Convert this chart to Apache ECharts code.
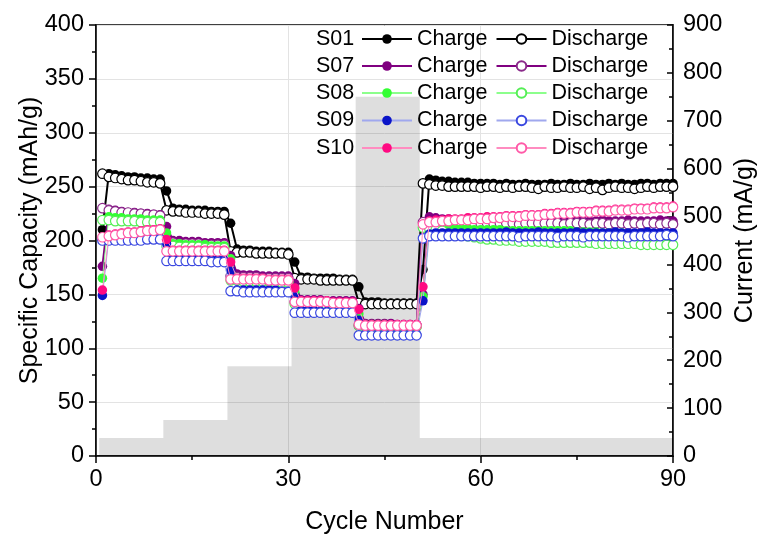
<!DOCTYPE html>
<html><head><meta charset="utf-8">
<script src="https://cdn.jsdelivr.net/npm/echarts@6/dist/echarts.min.js"></script>
<style>html,body{margin:0;padding:0;background:#fff}#c{width:758px;height:536px}</style>
</head><body><div id="c"></div><script>
// ---- data ----
const samples = ['S01', 'S07', 'S08', 'S09', 'S10'];
const xTicks = [0, 30, 60, 90];
const rateCurrents = [37.5, 75, 187.5, 375, 750, 37.5];   // mA/g
const rateCycles   = [10, 10, 10, 10, 10, 40];

const S01_charge = [210,262,261,260,259,259,258,258,257,257,
 246,230,229,229,228,228,228,227,227,227,
 216,192,191,191,190,190,190,189,189,189,
 180,166,166,165,165,165,165,164,164,164,
 157,143,143,143,142,142,142,142,142,142,
 173,257,256,255,255,254,254,254,253,253,
 253,253,252,253,252,252,253,252,252,252,
 253,252,252,253,252,252,253,252,252,253,
 252,253,252,252,253,253,252,253,253,253];
const S01_discharge = [262,259,258,257,256,256,255,254,254,253,
 228,227,227,226,226,226,225,225,225,224,
 190,189,189,189,188,188,188,188,188,187,
 165,164,164,164,163,163,163,163,163,163,
 142,141,141,141,141,141,141,141,141,141,
 253,252,251,251,250,250,250,250,250,249,
 250,250,249,250,249,250,250,249,248,250,
 249,249,250,249,249,250,248,249,247,249,
 250,249,249,248,249,250,249,250,250,250];
const S07_charge = [176,229,228,227,226,226,225,225,224,224,
 213,200,200,199,199,199,198,198,198,198,
 186,169,168,168,168,167,167,167,167,167,
 160,145,145,145,145,144,144,144,144,144,
 137,123,123,123,123,123,122,122,122,122,
 150,222,221,220,220,219,219,219,219,219,
 219,219,218,219,218,218,219,218,218,218,
 219,218,218,218,219,218,218,218,219,218,
 218,218,219,218,218,218,218,219,218,218];
const S07_discharge = [230,228,227,226,226,225,225,224,224,223,
 198,198,197,197,197,197,196,196,196,196,
 167,166,166,166,166,165,165,165,165,165,
 143,143,143,143,143,143,142,142,142,142,
 121,121,121,121,121,121,121,121,121,121,
 217,217,217,217,216,217,216,216,216,216,
 216,216,216,216,216,215,216,216,216,216,
 216,216,215,216,216,216,215,216,216,215,
 216,216,215,216,215,216,216,215,216,215];
const S08_charge = [165,222,221,221,220,220,220,219,219,219,
 207,197,197,196,196,196,196,195,195,195,
 183,164,164,164,163,163,163,163,163,163,
 152,142,142,142,142,141,141,141,141,141,
 132,122,122,122,122,121,121,121,121,121,
 148,214,213,212,212,211,211,211,210,210,
 210,210,210,209,209,209,209,209,209,209,
 209,209,209,209,208,208,208,208,207,207,
 207,207,206,206,206,206,205,205,205,205];
const S08_discharge = [219,219,218,218,218,218,217,217,217,217,
 195,195,194,194,194,194,193,193,193,193,
 163,163,162,162,162,162,162,161,161,161,
 141,140,140,140,140,140,140,140,139,139,
 121,120,120,120,120,120,120,120,120,120,
 212,211,210,209,207,206,205,204,203,202,
 201,201,200,200,200,199,199,199,199,199,
 198,198,198,198,198,198,198,197,197,197,
 197,197,197,197,196,196,196,196,196,196];
const S09_charge = [149,202,202,202,202,202,202,202,202,202,
 197,183,183,183,183,183,182,182,182,182,
 172,154,154,154,154,154,154,154,153,153,
 148,135,135,135,134,134,134,134,134,134,
 126,113,113,113,113,113,113,113,113,113,
 144,206,207,207,207,207,207,207,207,207,
 207,207,207,208,207,207,207,207,208,207,
 207,207,207,207,208,207,207,207,207,207,
 208,207,207,207,207,208,207,207,207,207];
const S09_discharge = [200,200,200,200,200,200,200,201,201,201,
 181,181,181,181,181,181,181,180,180,180,
 153,153,152,152,152,152,152,152,152,152,
 133,133,133,133,133,133,133,133,133,133,
 112,112,112,112,112,112,112,112,112,112,
 202,204,204,204,204,204,204,204,204,204,
 204,204,204,204,204,203,204,204,204,204,
 204,203,204,204,204,203,204,204,204,204,
 204,204,203,204,204,204,204,204,205,204];
const S10_charge = [154,205,206,207,208,208,209,210,210,211,
 201,191,191,191,191,191,191,191,191,191,
 180,165,165,165,165,165,164,164,164,164,
 156,144,144,144,144,144,143,143,143,143,
 136,122,122,122,122,122,122,122,122,122,
 157,218,219,219,220,220,220,221,221,221,
 222,222,222,223,223,223,224,224,224,225,
 225,226,226,226,227,227,227,228,228,228,
 229,229,229,230,230,230,231,231,231,232];
const S10_discharge = [203,204,205,206,207,207,208,209,209,210,
 190,190,190,190,190,190,190,190,190,190,
 164,164,164,164,164,164,163,163,163,163,
 143,143,143,143,143,143,142,142,142,142,
 122,121,121,121,121,121,121,121,121,121,
 215,217,217,218,218,219,219,219,220,220,
 220,221,221,222,222,222,223,223,223,224,
 224,225,225,225,226,226,226,227,227,227,
 228,228,228,229,229,229,230,230,230,231];

const chargeData = [S01_charge, S07_charge, S08_charge, S09_charge, S10_charge];
const dischargeData = [S01_discharge, S07_discharge, S08_discharge, S09_discharge, S10_discharge];

// ---- styles ----
const FONT = 'Liberation Sans, Arial, sans-serif';
const fillColor = ['#000000', '#800080', '#33ff33', '#0a14c8', '#ff0a82'];
const lineColor = ['#000000', '#800080', '#8cff8c', '#a0a8ee', '#ff8cc0'];
const ringColor = ['#000000', '#8a2a8a', '#55ee55', '#3a48e0', '#ff5aa8'];
const lineW = [2, 2, 1, 1, 1];
const rowY = [39, 66, 93, 120.5, 148];

// current steps
const currentPerCycle = [];
rateCurrents.forEach((c, k) => { for (let j = 0; j < rateCycles[k]; j++) currentPerCycle.push(c); });
const currentSteps = currentPerCycle.map((c, i) => [i + 0.5, c]);
currentSteps.push([currentPerCycle.length + 0.5, currentPerCycle[currentPerCycle.length - 1]]);

const series = [{
  type: 'line', yAxisIndex: 1, data: currentSteps, step: 'end', symbol: 'none',
  lineStyle: { width: 0 }, areaStyle: { color: 'rgba(0,0,0,0.13)', opacity: 1 },
  z: 1, silent: true, animation: false
}];
samples.forEach((s, k) => {
  series.push({
    name: s + ' Charge', type: 'line', yAxisIndex: 0,
    data: chargeData[k].map((v, i) => [i + 1, v]),
    symbol: 'circle', symbolSize: 9.5,
    itemStyle: { color: fillColor[k] },
    lineStyle: { color: lineColor[k], width: lineW[k] },
    z: 2 + k * 2, animation: false
  });
  series.push({
    name: s + ' Discharge', type: 'line', yAxisIndex: 0,
    data: dischargeData[k].map((v, i) => [i + 1, v]),
    symbol: 'circle', symbolSize: 9.5,
    itemStyle: { color: '#ffffff', borderColor: ringColor[k], borderWidth: 1.2 },
    lineStyle: { color: lineColor[k], width: lineW[k] },
    z: 3 + k * 2, animation: false
  });
});

const legends = samples.map((s, k) => ({
  data: [s + ' Charge', s + ' Discharge'],
  left: 361, top: rowY[k] - 11, orient: 'horizontal',
  itemWidth: 50, itemHeight: 12, itemGap: 8, padding: 0,
  selectedMode: false,
  formatter: n => n.split(' ')[1],
  textStyle: { fontSize: 21.5, fontFamily: FONT, color: '#000', lineHeight: 22 }
}));
const graphics = samples.map((s, k) => ({
  type: 'text', x: 316, y: rowY[k],
  style: { text: s, fontSize: 21.5, fontFamily: FONT, fill: '#000', verticalAlign: 'middle', align: 'left' }
}));

const axisLineStyle = { color: '#000', width: 1.5 };
const option = {
  backgroundColor: '#fff',
  animation: false,
  grid: { left: 96, right: 85, top: 25, bottom: 80, show: true, borderColor: '#000', borderWidth: 1.5, outerBoundsMode: 'none' },
  legend: legends,
  graphic: graphics,
  xAxis: {
    type: 'value', min: xTicks[0], max: xTicks[xTicks.length - 1], interval: 30,
    name: 'Cycle Number', nameLocation: 'middle', nameGap: 54,
    nameTextStyle: { fontSize: 25, fontFamily: FONT, color: '#000' },
    axisLine: { show: true, onZero: false, lineStyle: axisLineStyle },
    axisTick: { show: true, length: 7, lineStyle: axisLineStyle },
    minorTick: { show: true, splitNumber: 2, length: 4, lineStyle: axisLineStyle },
    axisLabel: { fontSize: 23.5, fontFamily: FONT, color: '#000', margin: 12 },
    splitLine: { show: true, lineStyle: { color: '#e3e3e3', width: 1 } }
  },
  yAxis: [{
    type: 'value', min: 0, max: 400, interval: 50, position: 'left',
    name: 'Specific Capacity (mAh/g)', nameLocation: 'middle', nameRotate: 90, nameGap: 53,
    nameMoveOverlap: false,
    nameTextStyle: { fontSize: 25, fontFamily: FONT, color: '#000' },
    axisLine: { show: true, onZero: false, lineStyle: axisLineStyle },
    axisTick: { show: true, length: 7, lineStyle: axisLineStyle },
    minorTick: { show: true, splitNumber: 2, length: 4, lineStyle: axisLineStyle },
    axisLabel: { fontSize: 23.5, fontFamily: FONT, color: '#000', margin: 12 },
    splitLine: { show: true, lineStyle: { color: '#e3e3e3', width: 1 } }
  }, {
    type: 'value', min: 0, max: 900, interval: 100, position: 'right',
    name: 'Current (mA/g)', nameLocation: 'middle', nameRotate: 90, nameGap: 55,
    nameTextStyle: { fontSize: 25, fontFamily: FONT, color: '#000' },
    axisLine: { show: true, onZero: false, lineStyle: axisLineStyle },
    axisTick: { show: true, inside: true, length: 6, lineStyle: axisLineStyle },
    minorTick: { show: true, splitNumber: 2, length: 4, lineStyle: axisLineStyle },
    axisLabel: { fontSize: 23.5, fontFamily: FONT, color: '#000', margin: 10 },
    splitLine: { show: false }
  }],
  series: series
};
const chart = echarts.init(document.getElementById('c'), null, { renderer: 'canvas' });
chart.setOption(option);
</script></body></html>
